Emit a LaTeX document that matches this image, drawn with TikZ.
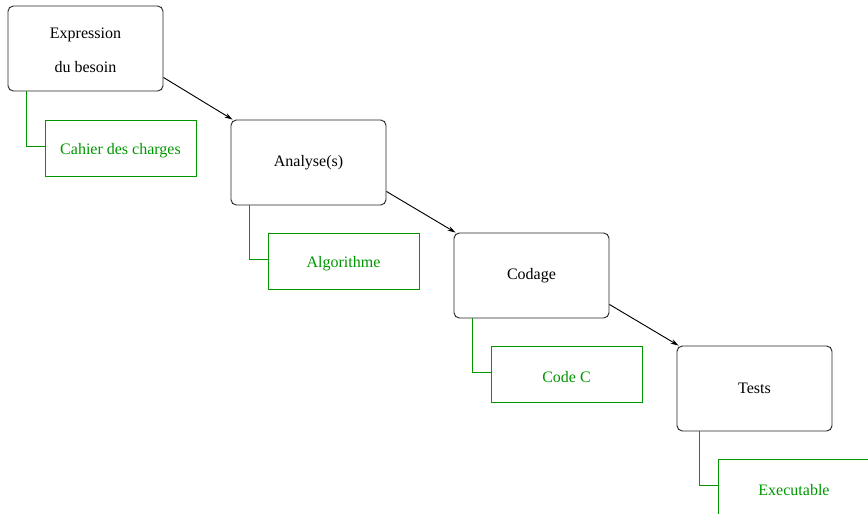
\documentclass[tikz,border=0pt]{standalone}
\usepackage{fontspec}
\setmainfont{Liberation Serif}
\usetikzlibrary{arrows.meta,calc}
\definecolor{grn}{RGB}{0,150,0}
\newcommand{\lowr}[2]{\raisebox{-#1}[\height][\depth]{#2}}
\begin{document}
\begin{tikzpicture}[x=0.75pt,y=-0.75pt,
  stepbox/.style={draw=black!85,line width=0.7pt,rounded corners=4pt,minimum width=116.25pt,minimum height=63.75pt,inner sep=0pt,align=center,font=\fontsize{12pt}{25.5pt}\selectfont},
  docbox/.style={draw=grn,line width=0.7pt,minimum width=113.25pt,minimum height=42pt,inner sep=0pt,text=grn,font=\fontsize{12pt}{13pt}\selectfont},
  flow/.style={draw=black,line width=0.7pt,-{Stealth[length=6pt,width=3.6pt]}},
  gline/.style={color=grn,line width=0.75pt}]
\clip (0,0) rectangle (868,514);
\useasboundingbox (0,0) rectangle (868,514);
\node[stepbox] (b1) at (85.5,48.5) {\lowr{1pt}{Expression}\\\lowr{1pt}{du besoin}};
\node[stepbox] (b2) at (308.5,162.5) {Analyse(s)};
\node[stepbox] (b3) at (531.5,275.5) {Codage};
\node[stepbox] (b4) at (754.5,388.5) {Tests};
\node[docbox] (g1) at (120.5,148) {\lowr{2pt}{Cahier des charges}};
\node[docbox] (g2) at (343.5,261) {\lowr{2pt}{Algorithme}};
\node[docbox] (g3) at (566.5,374) {\lowr{2pt}{Code C}};
\node[docbox] (g4) at (794,487) {\lowr{2pt}{Executable}};
\draw[flow] ([yshift=10.5pt]b1.south east) -- ([xshift=1.5pt]b2.north west);
\draw[flow] ([yshift=10.5pt]b2.south east) -- ([xshift=1.5pt]b3.north west);
\draw[flow] ([yshift=10.5pt]b3.south east) -- ([xshift=1.5pt]b4.north west);
\draw[gline] ([xshift=13.9pt]b1.south west) |- ([yshift=1.5pt]g1.west);
\draw[gline] ([xshift=13.9pt]b2.south west) |- ([yshift=1.5pt]g2.west);
\draw[gline] ([xshift=13.9pt]b3.south west) |- ([yshift=1.5pt]g3.west);
\draw[gline] ([xshift=17.2pt]b4.south west) |- ([yshift=1pt]g4.west);
\end{tikzpicture}
\end{document}
